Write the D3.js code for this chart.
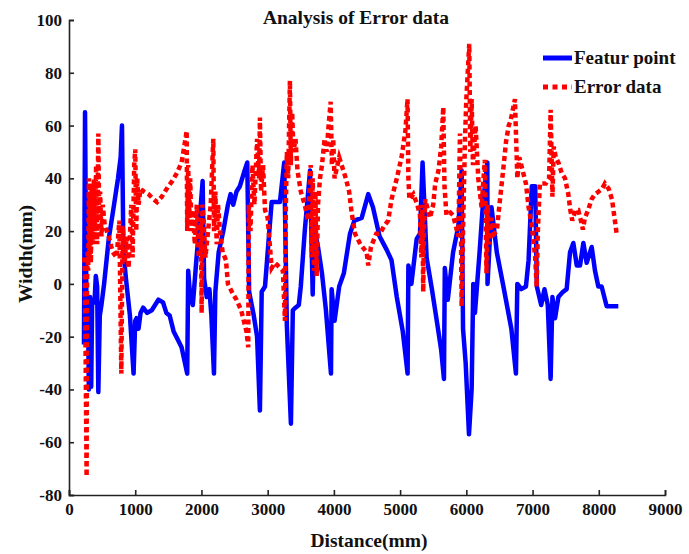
<!DOCTYPE html>
<html>
<head>
<meta charset="utf-8">
<script src="https://cdn.jsdelivr.net/npm/d3@7"></script>
<style>
    body { margin: 0; background: #fff; }
    svg { display: block; }
</style>
</head>
<body>
<div id="chart"></div>
<script>
// blue "Featur point" line
var featDist = [226, 242, 262, 285, 300, 318, 335, 350, 385, 405, 425, 443, 465, 490, 530, 600, 680, 740, 780, 800,
    822, 860, 920, 975, 1000, 1020, 1050, 1080, 1120, 1180, 1250, 1300, 1350, 1420, 1470, 1520, 1580, 1640, 1700, 1785,
    1800, 1830, 1870, 1920, 1960, 2018, 2040, 2080, 2120, 2150, 2189, 2210, 2260, 2330, 2400, 2440, 2480, 2530, 2580, 2640,
    2692, 2720, 2790, 2840, 2883, 2910, 2960, 3000, 3060, 3120, 3185, 3250, 3290, 3351, 3380, 3420, 3470, 3500, 3560, 3640,
    3680, 3700, 3760, 3820, 3880, 3956, 3966, 4010, 4080, 4150, 4243, 4310, 4420, 4519, 4590, 4690, 4796, 4870, 4950, 5040,
    5113, 5125, 5170, 5250, 5300, 5339, 5400, 5480, 5560, 5620, 5662, 5675, 5720, 5800, 5880, 5929, 5950, 5990, 6040, 6080,
    6105, 6130, 6200, 6250, 6317, 6320, 6380, 6460, 6560, 6680, 6749, 6770, 6830, 6900, 6940, 6988, 7040, 7065, 7130, 7180,
    7230, 7273, 7300, 7340, 7390, 7460, 7515, 7566, 7616, 7667, 7717, 7767, 7817, 7893, 7943, 7993, 8043, 8119, 8200, 8295];
var featWidth = [-23, 65, -4, -5, -40, -5, -39, -6, -7, 3, -1, -41, -12, -8, 0, 17, 30, 40, 48, 60,
    12, 2, -12, -34, -14, -13, -17, -11, -9, -11, -10, -8, -6, -7, -11, -12, -18, -21, -24, -34,
    5, -5, -8, 8, 20, 39, 2, -5, -2, -12, -34, -3, 12, 20, 30, 34, 30, 35, 37, 42,
    46, -3, -12, -20, -48, -3, -1, 12, 31, 31, 31, 46, -16, -53, -10, -9, -8, -1, 20, 43,
    -4, 22, 14, 4, -10, -34, -2, -14, -1, 4, 19, 24, 25, 34, 29, 18, 13, 9, -5, -18,
    -34, 7, 0, 17, 19, 46, 10, -2, -15, -25, -36, 6, -6, 12, 22, 43, -17, -30, -57, -40,
    0, -11, 12, 30, 46, 0, 29, 12, -1, -17, -34, 0, -2, -1, 9, 37, 37, -1, -8, -2,
    -8, -36, -5, -13, -5, -3, -2, 12, 15.5, 7, 7, 15.5, 8, 14, 5, -1, -1, -8.5, -8.5, -8.5];

// red dotted "Error data" line
var errDist = [230, 240, 266, 272, 280, 290, 300, 310, 320, 330, 345, 360, 375, 390, 410, 425, 443, 455, 470, 490,
    510, 540, 600, 660, 720, 760, 790, 810, 840, 870, 900, 940, 960, 985, 1000, 1015, 1030, 1050, 1080, 1130,
    1200, 1280, 1330, 1400, 1450, 1500, 1560, 1630, 1700, 1740, 1777, 1785, 1800, 1815, 1830, 1850, 1870, 1900, 1930, 1960,
    1990, 2003, 2015, 2030, 2060, 2100, 2140, 2179, 2190, 2210, 2230, 2250, 2280, 2320, 2370, 2400, 2440, 2480, 2530, 2600,
    2680, 2707, 2715, 2740, 2770, 2800, 2840, 2870, 2883, 2900, 2930, 2960, 3000, 3060, 3110, 3150, 3230, 3261, 3275, 3290,
    3310, 3336, 3350, 3370, 3390, 3420, 3450, 3500, 3560, 3610, 3650, 3665, 3680, 3700, 3720, 3740, 3760, 3790, 3820, 3860,
    3890, 3920, 3951, 3970, 3990, 4010, 4080, 4180, 4230, 4268, 4320, 4400, 4494, 4519, 4560, 4640, 4695, 4760, 4820, 4870,
    4950, 5022, 5080, 5112, 5125, 5140, 5200, 5260, 5300, 5320, 5335, 5349, 5360, 5380, 5420, 5451, 5500, 5530, 5580, 5620,
    5652, 5670, 5700, 5760, 5800, 5880, 5904, 5929, 5950, 5980, 6000, 6044, 6060, 6080, 6100, 6140, 6180, 6230, 6279, 6304,
    6320, 6350, 6380, 6420, 6460, 6500, 6560, 6600, 6640, 6670, 6734, 6770, 6800, 6840, 6900, 6940, 6990, 7040, 7062, 7080,
    7110, 7160, 7200, 7250, 7273, 7300, 7320, 7350, 7390, 7440, 7490, 7540, 7570, 7600, 7650, 7690, 7720, 7740, 7760, 7790,
    7840, 7890, 7940, 8000, 8050, 8093, 8150, 8200, 8270];
var errWidth = [10, 5, -73, 0, 12, 5, 40, 10, 35, 8, 38, 15, 40, 20, 45, 15, 57, 25, 35, 18,
    30, 22, 18, 12, 10, 24, -34, 22, 8, 18, 6, 30, 10, 45, 51, 20, 40, 30, 36, 35,
    34, 32, 31, 33, 35, 37, 39, 42, 46, 52, 58, 20, 45, 25, 40, 20, 28, 15, 30, 10,
    25, -11, 30, 25, 10, 20, 30, 55, 20, 35, 15, 30, 20, 12, 9, 0, -2, -4, -6, -10,
    -18, -24, 30, 20, 45, 30, 55, 40, 63, 35, 45, 28, 25, 6, 8, 7, 5, -14, 30, 50,
    40, 77, 45, 65, 50, 55, 43, 35, 30, 24, 45, 10, 40, 5, 35, 3, 30, 40, 45, 55,
    50, 60, 69, 45, 55, 40, 48, 40, 35, 27, 19, 15, 12, 7, 14, 19, 19, 22, 24, 32,
    40, 48, 58, 70, 40, 32, 34, 30, 26, 10, 30, -3, 20, 32, 28, 25, 30, 38, 43, 52,
    67, 37, 26, 27, 26, 18, 57, -8.5, 20, 55, 70, 91, 50, 70, 45, 60, 40, 29, 47, 4,
    30, 15, 25, 19, 20, 30, 44, 54, 60, 62, 70, 40, 48, 44, 38, 29, 22, 10, -1, 20,
    38, 38, 38, 40, 66, 33, 52, 48, 46, 42, 40, 34, 28, 24, 28, 28, 25, 23, 20.6, 25,
    28, 32, 34, 35, 36, 38, 36, 32, 19];

var xTicks = [0, 1000, 2000, 3000, 4000, 5000, 6000, 7000, 8000, 9000];
var yTicks = [-80, -60, -40, -20, 0, 20, 40, 60, 80, 100];
var legendNames = ['Featur point', 'Error data'];

var width = 689, height = 554;
var font = '"Liberation Serif", "Times New Roman", serif';

var svg = d3.select('#chart').append('svg')
    .attr('width', width)
    .attr('height', height);

var x = d3.scaleLinear().domain([0, 9000]).range([69, 665]);
var y = d3.scaleLinear().domain([-80, 100]).range([495, 20]);

// plain hyphen for negatives, like the original figure
var plain = function (d) { return String(d); };

// matlab style axes: only left and bottom, ticks pointing in
var xAxis = svg.append('g')
    .attr('transform', 'translate(0,' + y(-80) + ')')
    .call(d3.axisBottom(x).tickValues(xTicks).tickSizeInner(-5).tickSizeOuter(-5).tickPadding(8).tickFormat(plain));
var yAxis = svg.append('g')
    .attr('transform', 'translate(' + x(0) + ',0)')
    .call(d3.axisLeft(y).tickValues(yTicks).tickSizeInner(-5).tickSizeOuter(-5).tickPadding(7).tickFormat(plain));

[xAxis, yAxis].forEach(function (g) {
    g.select('.domain').attr('stroke', '#222').attr('stroke-width', 1.6);
    g.selectAll('.tick line').attr('stroke', '#222').attr('stroke-width', 1.6);
    g.selectAll('.tick text')
        .attr('fill', '#111')
        .style('font-family', font)
        .style('font-weight', 'bold')
        .style('font-size', '17px');
});

var featData = featDist.map(function (d, i) { return [d, featWidth[i]]; });
var errData = errDist.map(function (d, i) { return [d, errWidth[i]]; });

var line = d3.line()
    .x(function (d) { return x(d[0]); })
    .y(function (d) { return y(d[1]); });

svg.append('path')
    .datum(featData)
    .attr('fill', 'none')
    .attr('stroke', '#0000ff')
    .attr('stroke-width', 4.5)
    .attr('stroke-linejoin', 'round')
    .attr('d', line);

svg.append('path')
    .datum(errData)
    .attr('fill', 'none')
    .attr('stroke', '#ff0000')
    .attr('stroke-width', 4.5)
    .attr('stroke-dasharray', '5,3.5')
    .attr('d', line);

// title and axis labels
svg.append('text')
    .attr('x', 356).attr('y', 24)
    .attr('text-anchor', 'middle')
    .style('font-family', font).style('font-weight', 'bold').style('font-size', '19.5px')
    .attr('fill', '#111')
    .text('Analysis of Error data');

svg.append('text')
    .attr('x', 369).attr('y', 547)
    .attr('text-anchor', 'middle')
    .style('font-family', font).style('font-weight', 'bold').style('font-size', '19.5px')
    .attr('fill', '#111')
    .text('Distance(mm)');

svg.append('text')
    .attr('transform', 'translate(32,254) rotate(-90)')
    .attr('text-anchor', 'middle')
    .style('font-family', font).style('font-weight', 'bold').style('font-size', '19.5px')
    .attr('fill', '#111')
    .text('Width(mm)');

// legend
var legend = svg.append('g').attr('transform', 'translate(543,58)');
legendNames.forEach(function (name, i) {
    var row = legend.append('g').attr('transform', 'translate(0,' + i * 29 + ')');
    row.append('line')
        .attr('x1', 0).attr('x2', 29)
        .attr('stroke', i === 0 ? '#0000ff' : '#ff0000')
        .attr('stroke-width', 5)
        .attr('stroke-dasharray', i === 0 ? null : '5,4.5');
    row.append('text')
        .attr('x', 31).attr('y', 6)
        .style('font-family', font).style('font-weight', 'bold').style('font-size', '19px')
        .attr('fill', '#111')
        .text(name);
});
</script>
</body>
</html>
